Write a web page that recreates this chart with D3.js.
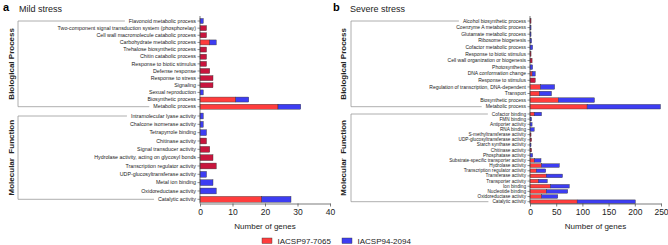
<!DOCTYPE html>
<html>
<head>
<meta charset="utf-8">
<script src="https://cdn.jsdelivr.net/npm/d3@7"></script>
<style>
	body { margin: 0; background: #fff; }
	svg { display: block; font-family: 'Liberation Sans', Arial, sans-serif; }
</style>
</head>
<body>
<div class="chart"></div>
<script>
// series names (legend)
const seriesNames = [ 'IACSP97-7065', 'IACSP94-2094' ];

// a - mild stress
const mildBPCategories = [
	'Flavonoid metabolic process',
	'Two-component signal transduction system (phosphorelay)',
	'Cell wall macromolecule catabolic process',
	'Carbohydrate metabolic process',
	'Trehalose biosynthetic process',
	'Chitin catabolic process',
	'Response to biotic stimulus',
	'Defense response',
	'Response to stress',
	'Signaling',
	'Sexual reproduction',
	'Biosynthetic process',
	'Metabolic process'
];
const mildBP97 = [ 0, 2, 2, 3, 2, 2, 2, 3, 4, 4, 0, 11, 24 ];
const mildBP94 = [ 1, 0, 0, 2, 0, 0, 0, 0, 0, 0, 1, 4, 7 ];

const mildMFCategories = [
	'Intramolecular lyase activity',
	'Chalcone isomerase activity',
	'Tetrapyrrole binding',
	'Chitinase activity',
	'Signal transducer activity',
	'Hydrolase activity, acting on glycosyl bonds',
	'Transcription regulator activity',
	'UDP-glucosyltransferase activity',
	'Metal ion binding',
	'Oxidoreductase activity',
	'Catalytic activity'
];
const mildMF97 = [ 0, 0, 0, 2, 3, 4, 5, 0, 0, 0, 19 ];
const mildMF94 = [ 1, 1, 2, 0, 0, 0, 0, 2, 4, 5, 9 ];
const mildTicks = [ 0, 10, 20, 30, 40 ];

// b - severe stress
const severeBPCategories = [
	'Alcohol biosynthetic process',
	'Coenzyme A metabolic process',
	'Glutamate metabolic process',
	'Ribosome biogenesis',
	'Cofactor metabolic process',
	'Response to biotic stimulus',
	'Cell wall organization or biogenesis',
	'Photosynthesis',
	'DNA conformation change',
	'Response to stimulus',
	'Regulation of transcription, DNA-dependent',
	'Transport',
	'Biosynthetic process',
	'Metabolic process'
];
const severeBP97 = [ 2, 0, 0, 0, 0, 2, 4, 0, 4, 10, 20, 18, 54, 109 ];
const severeBP94 = [ 0, 2, 2, 3, 5, 0, 0, 5, 6, 0, 27, 23, 69, 140 ];

const severeMFCategories = [
	'Cofactor binding',
	'FMN binding',
	'Antiporter activity',
	'RNA binding',
	'S-methyltransferase activity',
	'UDP-glucosyltransferase activity',
	'Starch synthase activity',
	'Chitinase activity',
	'Phosphatase activity',
	'Substrate-specific transporter activity',
	'Hydrolase activity',
	'Transcription regulator activity',
	'Transferase activity',
	'Transporter activity',
	'Ion binding',
	'Nucleotide binding',
	'Oxidoreductase activity',
	'Catalytic activity'
];
const severeMF97 = [ 8, 0, 0, 0, 2, 3, 0, 3, 0, 8, 22, 12, 31, 16, 39, 31, 22, 90 ];
const severeMF94 = [ 14, 3, 4, 8, 0, 0, 2, 0, 5, 13, 34, 18, 31, 17, 36, 41, 31, 111 ];
const severeTicks = [ 0, 50, 100, 150, 200, 250 ];

const red = '#ff3d3d';
const blue = '#3d3df2';
const crimson = '#c8153d';
const axisColor = '#444';
const bracketColor = '#9a9a9a';

const width = 668;
const height = 245;
const axisY = 203.5;

const svg = d3.select('.chart').append('svg').attr('width', width).attr('height', height);

function rows(cats, v97, v94) {
	return cats.map((c, i) => ({ cat: c, a: v97[i], b: v94[i] }));
}

const panels = [
	{
		letter: 'a', title: 'Mild stress', lx: 3, tx: 19,
		x0: 200, x1: 330, max: 40, ticks: mildTicks, bx: 18, gx: 13.5,
		groups: [
			{ name: 'Biological Process', data: rows(mildBPCategories, mildBP97, mildBP94), c0: 21, c1: 106.7, fs: 5.3 },
			{ name: 'Molecular  Function', data: rows(mildMFCategories, mildMF97, mildMF94), c0: 116, c1: 199.3, fs: 5.3 }
		]
	},
	{
		letter: 'b', title: 'Severe stress', lx: 333, tx: 350,
		x0: 530, x1: 661, max: 250, ticks: severeTicks, bx: 351, gx: 345.5,
		groups: [
			{ name: 'Biological Process', data: rows(severeBPCategories, severeBP97, severeBP94), c0: 21, c1: 106.7, fs: 5 },
			{ name: 'Molecular  Function', data: rows(severeMFCategories, severeMF97, severeMF94), c0: 114, c1: 201.7, fs: 4.7 }
		]
	}
];

panels.forEach((p) => {
	const g = svg.append('g');
	const x = d3.scaleLinear().domain([ 0, p.max ]).range([ p.x0, p.x1 ]);

	g.append('text').attr('x', p.lx).attr('y', 11).attr('font-size', 11).attr('font-weight', 'bold').text(p.letter);
	g.append('text').attr('x', p.tx).attr('y', 11.5).attr('font-size', 9).attr('fill', '#222').text(p.title);

	p.groups.forEach((grp) => {
		const n = grp.data.length;
		const step = (grp.c1 - grp.c0) / (n - 1);
		const y = d3
			.scaleBand()
			.domain(grp.data.map((d) => d.cat))
			.range([ grp.c0 - step / 2, grp.c1 + step / 2 ])
			.paddingInner(0.3)
			.paddingOuter(0.15);

		const yAxis = g
			.append('g')
			.attr('transform', `translate(${p.x0},0)`)
			.call(d3.axisLeft(y).tickSize(2.5).tickPadding(1.5))
			.call((s) => s.select('.domain').remove());
		yAxis.selectAll('line').attr('stroke', axisColor).attr('stroke-width', 0.6);
		yAxis.selectAll('text').attr('font-size', grp.fs).attr('font-family', null).attr('fill', '#222');

		// stacked bars
		const bars = g.append('g').selectAll('g').data(grp.data).join('g');
		bars
			.filter((d) => d.a > 0)
			.append('rect')
			.attr('x', x(0))
			.attr('y', (d) => y(d.cat))
			.attr('width', (d) => x(d.a) - x(0))
			.attr('height', y.bandwidth())
			.attr('fill', (d) => (d.b > 0 ? red : crimson))
			.attr('stroke', '#333')
			.attr('stroke-width', 0.4);
		bars
			.filter((d) => d.b > 0)
			.append('rect')
			.attr('x', (d) => x(d.a))
			.attr('y', (d) => y(d.cat))
			.attr('width', (d) => x(d.a + d.b) - x(d.a))
			.attr('height', y.bandwidth())
			.attr('fill', blue)
			.attr('stroke', '#333')
			.attr('stroke-width', 0.4);

		// bracket from first to last label
		const labels = yAxis.selectAll('.tick text').nodes();
		const firstW = labels[0].getComputedTextLength();
		const lastW = labels[n - 1].getComputedTextLength();
		const textEnd = p.x0 - 4;
		const top = y(grp.data[0].cat) + y.bandwidth() / 2;
		const bot = y(grp.data[n - 1].cat) + y.bandwidth() / 2;
		g
			.append('path')
			.attr('d', `M${textEnd - firstW - 4},${top}H${p.bx}V${bot}H${textEnd - lastW - 4}`)
			.attr('fill', 'none')
			.attr('stroke', bracketColor)
			.attr('stroke-width', 0.8);

		g
			.append('text')
			.attr('transform', `translate(${p.gx},${(top + bot) / 2}) rotate(-90)`)
			.attr('text-anchor', 'middle')
			.attr('font-size', 8)
			.attr('font-weight', 'bold')
			.attr('fill', '#222')
			.style('white-space', 'pre')
			.text(grp.name);
	});

	// vertical axis line
	g
		.append('line')
		.attr('x1', p.x0)
		.attr('x2', p.x0)
		.attr('y1', 16)
		.attr('y2', axisY)
		.attr('stroke', axisColor)
		.attr('stroke-width', 0.7);

	const xAxis = g
		.append('g')
		.attr('transform', `translate(0,${axisY})`)
		.call(d3.axisBottom(x).tickValues(p.ticks).tickSize(3).tickSizeOuter(0).tickPadding(2.5));
	xAxis.selectAll('line, path').attr('stroke', axisColor).attr('stroke-width', 0.7);
	xAxis.selectAll('text').attr('font-size', 8.5).attr('font-family', null).attr('fill', '#222');

	g
		.append('text')
		.attr('x', (p.x0 + p.x1) / 2)
		.attr('y', 229)
		.attr('text-anchor', 'middle')
		.attr('font-size', 8)
		.attr('fill', '#222')
		.text('Number of genes');
});

// legend
const legendX = [ 262, 342 ];
const legend = svg.append('g').selectAll('g').data(seriesNames).join('g').attr('transform', (d, i) => `translate(${legendX[i]},238)`);
legend
	.append('rect')
	.attr('width', 10)
	.attr('height', 5.5)
	.attr('fill', (d, i) => (i === 0 ? red : blue))
	.attr('stroke', '#333')
	.attr('stroke-width', 0.4);
legend.append('text').attr('x', 15.5).attr('y', 6).attr('font-size', 8).attr('fill', '#222').text((d) => d);
</script>
</body>
</html>
